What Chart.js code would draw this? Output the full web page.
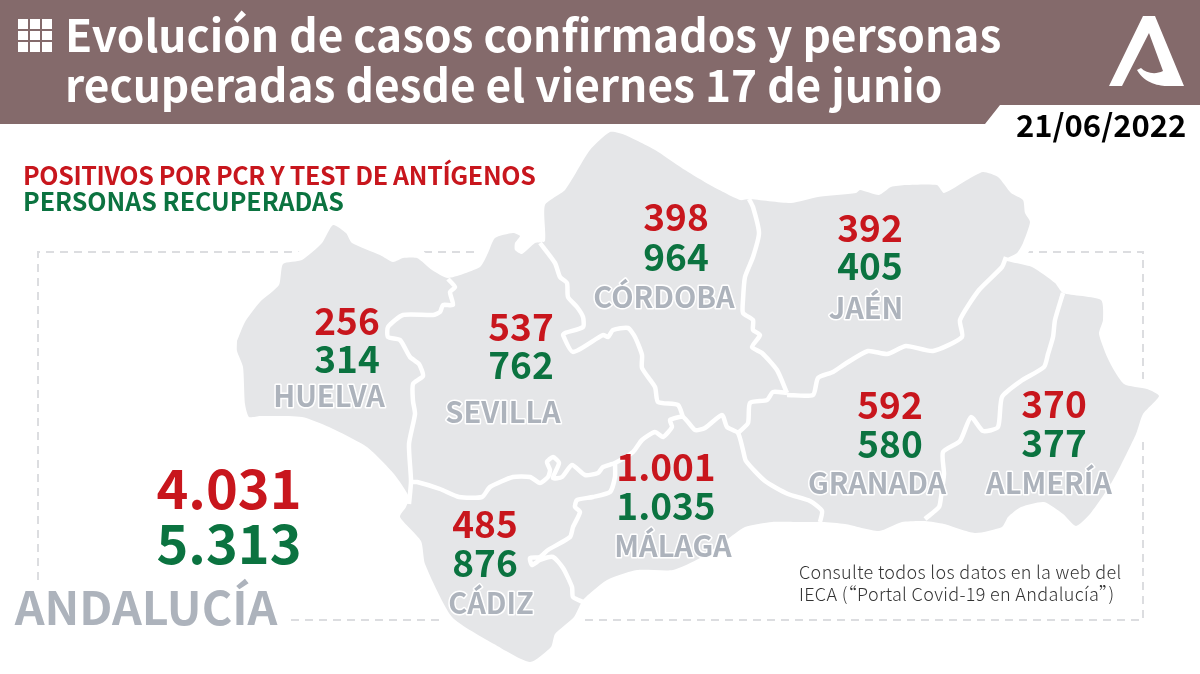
<!DOCTYPE html>
<html lang="es">
<head>
<meta charset="utf-8">
<title>Evolución de casos confirmados y personas recuperadas</title>
<script src="https://cdn.jsdelivr.net/npm/chart.js@4/dist/chart.umd.min.js"></script>
<style>
  html, body { margin: 0; padding: 0; background: #fff; }
  body { position: relative; width: 1200px; height: 674px; overflow: hidden; font-family: 'Noto Sans CJK SC', 'Noto Sans', sans-serif; }
  #mapa { position: absolute; left: 0; top: 0; }
  .banda { position: absolute; left: 0; top: 0; width: 1200px; height: 124px; background: #846a6b; clip-path: polygon(0 0, 1200px 0, 1200px 105px, 1000px 105px, 985px 124px, 0 124px); }
  .texto { position: absolute; white-space: nowrap; font-weight: 700; }
  .titulo { left: 65px; color: #fff; font-size: 44.2px; line-height: 50px; }
  .icono { position: absolute; left: 18px; top: 19px; width: 34px; height: 33px; display: grid; grid-template-columns: repeat(3, 10px); grid-template-rows: repeat(3, 9.5px); gap: 2px; }
  .icono i { background: #fff; display: block; }
  .logo { position: absolute; left: 0; top: 0; }
  .leyenda { left: 23px; font-size: 25px; line-height: 30px; }
  .fecha { left: 1016px; top: 104px; font-size: 31px; line-height: 40px; color: #000; font-weight: 700; }
  .nota { left: 799px; font-size: 18px; line-height: 22px; color: #333; font-weight: 300; letter-spacing: .33px; }
</style>
</head>
<body>
<canvas id="mapa" width="1200" height="674"></canvas>
<div class="banda"></div>
<div class="icono"><i></i><i></i><i></i><i></i><i></i><i></i><i></i><i></i><i></i></div>
<svg class="logo" width="1200" height="124"><path fill="#fff" d="M1143 16 L1109 86 L1122 86 L1149 33 L1163 71 C1155 75 1146 73 1141 68 L1137 70 C1145 84 1160 86 1168 86 L1184 86 L1155 16 Z"/></svg>
<div class="texto titulo" style="top:8px">Evolución de casos confirmados y personas</div>
<div class="texto titulo" style="top:58px">recuperadas desde el viernes 17 de junio</div>
<div class="texto fecha">21/06/2022</div>
<div class="texto leyenda" style="top:159px;color:#c8161d;letter-spacing:-.36px">POSITIVOS POR PCR Y TEST DE ANTÍGENOS</div>
<div class="texto leyenda" style="top:185px;color:#0b7340">PERSONAS RECUPERADAS</div>
<div class="texto nota" style="top:560px">Consulte todos los datos en la web del</div>
<div class="texto nota" style="top:582px">IECA (“Portal Covid-19 en Andalucía”)</div>

<script>
/* ===== DATOS ===== */
const provincias = ['HUELVA', 'SEVILLA', 'CÓRDOBA', 'JAÉN', 'GRANADA', 'ALMERÍA', 'MÁLAGA', 'CÁDIZ'];
const positivos = [256, 537, 398, 392, 592, 370, 1001, 485];
const recuperados = [314, 762, 964, 405, 580, 377, 1035, 876];
const totalNombre = 'ANDALUCÍA';
const totalPositivos = 4031;
const totalRecuperados = 5313;

/* ===== POSICION DE ETIQUETAS ===== */
const numX = [347, 521, 676, 870, 890, 1054, 666, 485];
const positivosY = [335, 341, 231, 242, 419, 418, 481, 538];
const recuperadosY = [373, 379, 271, 280, 458, 457, 520, 577];
const nombreX = [329, 503, 664, 866, 877, 1049, 673, 491];
const nombreY = [407, 423, 308, 319, 494, 494, 557, 614];

/* ===== MAPA ===== */
const contorno = [
  [237,341],[245,322],[260,302],[279,285],[283,264],[302,260],[322,243],[333,225],[346,233],[352,243],[380,255],
  [393,262],[403,258],[417,258],[432,270],[448,278],[480,267],[488,253],[495,238],[513,233],[520,236],[515,243],
  [515,250],[522,254],[535,243],[545,241],[545,205],[565,190],
  [590,150],[610,132],[625,135],[655,150],[685,170],[710,185],[740,200],[749,199],[791,203],[818,197],[856,193],
  [860,190],[879,195],[891,187],[906,185],[937,185],[944,193],[967,180],[983,172],[998,177],[1011,193],[1023,200],
  [1025,213],[1030,222],[1023,243],[1017,253],[1005,260],[1032,267],[1055,283],[1063,293],[1101,300],[1103,320],
  [1099,334],[1109,361],[1124,384],[1147,389],[1159,396],[1143,414],[1136,434],[1120,467],[1109,487],[1090,514],
  [1076,526],[1063,514],[1044,502],[1021,507],[1008,517],[1002,527],[975,533],[944,524],[925,521],[902,522],
  [879,531],[845,524],[822,522],[799,522],[772,522],[745,527],[725,541],[700,558],[673,570],[637,570],[607,580],
  [583,600],[574,617],[555,634],[551,647],[530,662],[494,644],[452,617],[425,564],[421,541],[400,517],[406,507],
  [409,497],[394,474],[367,447],[329,427],[302,417],[260,416],[249,417],[245,404],[243,367],[237,351],[237,341]
];
const huelvaSevilla = [[448,279],[455,287],[450,292],[453,305],[443,305],[440,312],[433,315],[403,315],[388,327],[388,337],[400,340],[410,357],[419,364],[423,376],[413,384],[413,401],[415,414],[409,444],[411,481],[409,504]];
const sevillaCadiz = [[411,482],[417,482],[440,489],[459,497],[482,497],[490,487],[513,477],[530,477],[540,483],[548,477],[550,470],[547,462],[553,457],[559,463],[553,478],[562,477],[572,465],[585,475],[598,473],[603,467],[615,463],[633,452],[642,440],[655,432],[663,437],[672,427],[670,420],[683,417],[695,430],[705,428],[722,415],[727,427],[738,433],[743,450],[746,461],[765,481],[788,494],[810,501],[822,511],[820,522]];
const cadizMalaga = [[615,463],[615,477],[610,492],[593,497],[577,500],[575,507],[580,512],[573,527],[570,537],[548,550],[540,557],[530,558],[532,565],[540,560],[553,557],[563,568],[572,587],[573,597],[583,602]];
const sevillaCordoba = [[540,243],[555,263],[560,277],[567,283],[568,297],[577,307],[583,317],[583,327],[565,333],[563,335],[573,352],[603,335],[608,337],[613,330],[628,328],[635,337],[642,355],[642,368],[655,387],[658,402],[678,405],[683,417]];
const cordobaJaen = [[749,199],[753,207],[759,233],[753,257],[745,277],[743,300],[743,313],[753,320],[753,330],[760,335],[752,347],[762,353],[777,370],[787,393]];
const cordobaGranada = [[787,393],[773,392],[767,400],[750,403],[748,423],[738,433]];
const jaenGranada = [[787,395],[813,395],[818,378],[833,372],[845,364],[868,351],[887,354],[906,346],[933,351],[962,337],[960,320],[979,290],[1002,267],[1006,257]];
const granadaAlmeria = [[1063,293],[1055,320],[1053,337],[1048,354],[1044,367],[1021,381],[1002,397],[998,427],[983,431],[971,417],[960,441],[943,452],[944,474],[941,497],[939,507],[925,519]];
const fronteras = [huelvaSevilla, sevillaCadiz, cadizMalaga, sevillaCordoba, cordobaJaen, cordobaGranada, jaenGranada, granadaAlmeria];
const marco = [[38,580],[38,252],[482,252],null,[1025,252],[1143,252],[1143,620],[291,620]];

const ROJO = '#c8161d', VERDE = '#0b7340', GRIS = '#adb3bc', GRIS_MAPA = '#e5e6e8';

const puntos = (lista) => lista.map(p => p ? { x: p[0], y: p[1] } : { x: null, y: null });
const miles = (n) => String(n).replace(/\B(?=(\d{3})+$)/g, '.');

const capaTexto = (textos, xs, ys, color, size, halo) => ({
  data: textos.map((t, i) => ({ x: xs[i], y: ys[i] })),
  textos, textColor: color, textSize: size, textHalo: halo,
  showLine: false, pointRadius: 0, order: 0
});

/* Relleno del contorno y textos, colocados con los elementos de cada dataset */
const mapaPlugin = {
  id: 'mapaPlugin',
  afterDatasetDraw(chart, args) {
    const ds = chart.data.datasets[args.index];
    const { ctx } = chart;
    if (ds.relleno) {
      args.meta.dataset.updateControlPoints(chart.chartArea);
      ctx.save();
      ctx.beginPath();
      args.meta.dataset.path(ctx);
      ctx.closePath();
      ctx.fillStyle = ds.relleno;
      ctx.fill();
      ctx.restore();
    }
    if (ds.textos) {
      ctx.save();
      ctx.font = `700 ${ds.textSize}px "Noto Sans CJK SC", "Noto Sans", sans-serif`;
      ctx.textAlign = 'center';
      ctx.textBaseline = 'alphabetic';
      ctx.lineJoin = 'round';
      ds.textos.forEach((t, i) => {
        const el = args.meta.data[i];
        if (ds.textHalo) {
          ctx.strokeStyle = '#fff';
          ctx.lineWidth = ds.textHalo;
          ctx.strokeText(t, el.x, el.y);
        }
        ctx.fillStyle = ds.textColor;
        ctx.fillText(t, el.x, el.y);
      });
      ctx.restore();
    }
  }
};

new Chart(document.getElementById('mapa'), {
  type: 'scatter',
  data: {
    datasets: [
      capaTexto(positivos.map(miles), numX, positivosY, ROJO, 37),
      capaTexto(recuperados.map(miles), numX, recuperadosY, VERDE, 37),
      capaTexto(provincias, nombreX, nombreY, GRIS, 29, 3),
      capaTexto([miles(totalPositivos)], [229], [509], ROJO, 54),
      capaTexto([miles(totalRecuperados)], [229], [564], VERDE, 54),
      capaTexto([totalNombre], [146], [625], GRIS, 46.5),
      ...fronteras.map(f => ({
        data: puntos(f), showLine: true, borderColor: '#fff', borderWidth: 4.5,
        tension: 0.2, pointRadius: 0, order: 1
      })),
      {
        data: puntos(contorno), showLine: true, borderColor: '#fff', borderWidth: 18,
        relleno: GRIS_MAPA, tension: 0.2, pointRadius: 0, order: 2
      },
      {
        data: puntos(marco), showLine: true, borderColor: '#dcdde0', borderWidth: 2,
        borderDash: [8, 6], spanGaps: false, pointRadius: 0, order: 3
      }
    ]
  },
  options: {
    responsive: false,
    animation: false,
    devicePixelRatio: 1,
    layout: { padding: 0 },
    plugins: { legend: { display: false }, tooltip: { enabled: false }, title: { display: false } },
    scales: {
      x: { type: 'linear', min: 0, max: 1200, display: false },
      y: { type: 'linear', min: 0, max: 674, reverse: true, display: false }
    }
  },
  plugins: [mapaPlugin]
});
</script>
</body>
</html>
